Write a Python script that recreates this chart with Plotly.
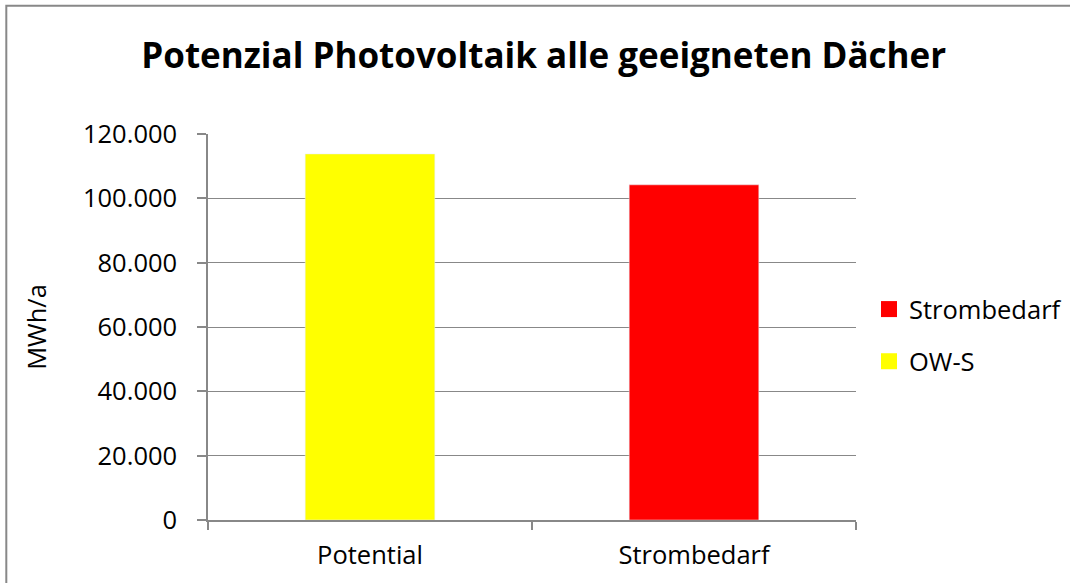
import plotly.graph_objects as go

categories = ["Potential", "Strombedarf"]
ows_values = [113800, None]
strom_values = [None, 104200]
y_tick_values = [0, 20000, 40000, 60000, 80000, 100000, 120000]
y_tick_labels = ["0", "20.000", "40.000", "60.000", "80.000", "100.000", "120.000"]

W, H = 1070, 583
L, R, T, B = 208, 214, 134, 63
pw, ph = W - L - R, H - T - B

FONT = "Open Sans"
GRAY = "#888888"
FS = 25.5

fig = go.Figure()
fig.add_trace(go.Bar(x=categories, y=ows_values, name="OW-S", marker_color="#FFFF00",
                     width=0.4, showlegend=False))
fig.add_trace(go.Bar(x=categories, y=strom_values, name="Strombedarf", marker_color="#FF0000",
                     width=0.4, showlegend=False))
# legend entries
fig.add_trace(go.Scatter(x=[None], y=[None], mode="markers", name="Strombedarf",
                         marker=dict(symbol="square", size=17, color="#FF0000"),
                         legendgroup="a"))
fig.add_trace(go.Scatter(x=[None], y=[None], mode="markers", name="OW-S",
                         marker=dict(symbol="square", size=17, color="#FFFF00"),
                         legendgroup="b"))

fig.update_layout(
    width=W, height=H,
    margin=dict(l=L, r=R, t=T, b=B, pad=0, autoexpand=False),
    paper_bgcolor="white", plot_bgcolor="white",
    barmode="overlay",
    font=dict(family=FONT, size=FS, color="black"),
    title=dict(text="<b>Potenzial Photovoltaik alle geeigneten Dächer</b>",
               x=543.7 / W, xanchor="center", y=1 - 56 / H, yanchor="middle",
               font=dict(family=FONT, size=35, color="black")),
    xaxis=dict(type="category", showgrid=False, showline=True, linecolor=GRAY, linewidth=1.5,
               ticks="outside", tickson="boundaries", ticklen=8, tickcolor=GRAY, tickwidth=1.5,
               ticklabelstandoff=12, fixedrange=True),
    yaxis=dict(range=[0, 120000], tickvals=y_tick_values, ticktext=y_tick_labels,
               showgrid=True, gridcolor=GRAY, gridwidth=1.3, showline=True, linecolor=GRAY,
               linewidth=1.5, ticks="outside", ticklen=9, tickcolor=GRAY, tickwidth=1.5,
               ticklabelstandoff=15, zeroline=False, fixedrange=True,
               title=dict(text="MWh/a", standoff=29, font=dict(size=FS))),
    legend=dict(xref="container", yref="container", x=869 / W, xanchor="left",
                y=1 - 286 / H, yanchor="top",
                traceorder="grouped", tracegroupgap=16, bgcolor="rgba(0,0,0,0)",
                font=dict(size=FS)),
    shapes=[dict(type="rect", xref="paper", yref="paper",
                 x0=(6.3 - L) / pw, x1=(W + 20 - L) / pw,
                 y0=(H - B - (H + 20)) / ph, y1=(H - B - 5.7) / ph,
                 line=dict(color=GRAY, width=2), fillcolor="rgba(0,0,0,0)", layer="below")],
)

fig.write_html("out.html", config={"displayModeBar": False},
               post_script="document.body.style.margin='0';")
